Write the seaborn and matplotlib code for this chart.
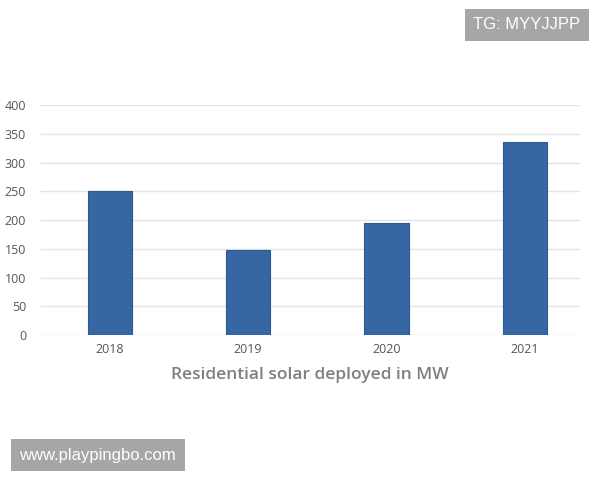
import matplotlib
matplotlib.use("Agg")
import matplotlib.pyplot as plt
import seaborn as sns
import pandas as pd

years = ["2018", "2019", "2020", "2021"]
values = [250, 148, 195, 336]
yticks = [0, 50, 100, 150, 200, 250, 300, 350, 400]

df = pd.DataFrame({"year": years, "mw": values})

sns.set_theme(style="white")
plt.rcParams['font.family'] = ['Open Sans', 'DejaVu Sans']

fig = plt.figure(figsize=(6, 4.8), dpi=100)
ax = fig.add_axes([0.0667, 0.302, 0.9, 0.479])

sns.barplot(data=df, x="year", y="mw", color="#3667a3", width=0.32,
            saturation=1, ax=ax, zorder=3, edgecolor="#2c5a90", linewidth=0.8)

ax.set_ylim(0, 400)
ax.set_xlim(-0.505, 3.40)
ax.set_yticks(yticks)
ax.set_yticklabels([str(v) for v in yticks])
ax.grid(axis="y", color="#e4e4e4", linewidth=1, zorder=0)
ax.grid(axis="x", visible=False)
for s in ax.spines.values():
    s.set_visible(False)
ax.tick_params(axis="both", length=0, labelsize=9, colors="#555555")
ax.tick_params(axis="y", pad=10)
ax.tick_params(axis="x", pad=6)
ax.set_ylabel("")
ax.set_xlabel("Residential solar deployed in MW", fontsize=12.5, color="#7f7f7f",
              fontweight="semibold", labelpad=8)

fig.text(0.878, 0.948, "TG: MYYJJPP", ha="center", va="center", fontsize=12,
         color="white", family=["Liberation Sans", "DejaVu Sans"],
         bbox=dict(boxstyle="square,pad=0.5", facecolor="#a6a6a6", edgecolor="none"))
fig.text(0.163, 0.052, "www.playpingbo.com", ha="center", va="center", fontsize=12,
         color="white", family=["Liberation Sans", "DejaVu Sans"],
         bbox=dict(boxstyle="square,pad=0.5", facecolor="#a6a6a6", edgecolor="none"))

fig.savefig("out.png", dpi=100)
